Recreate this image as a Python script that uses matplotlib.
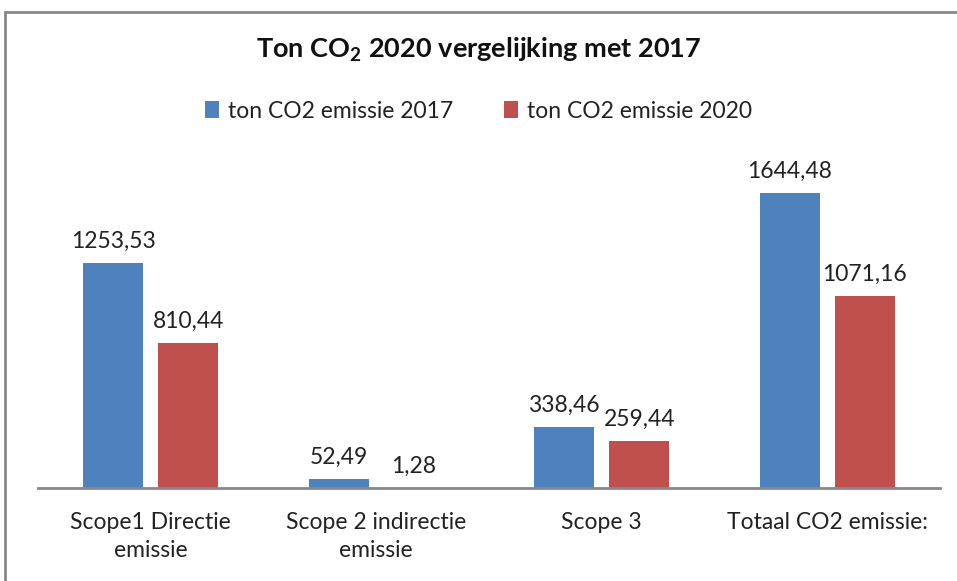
import matplotlib
matplotlib.use("Agg")
import matplotlib.pyplot as plt
from matplotlib.patches import Rectangle

categories = ["Scope1 Directie\nemissie", "Scope 2 indirectie\nemissie", "Scope 3", "Totaal CO2 emissie:"]
values_2017 = [1253.53, 52.49, 338.46, 1644.48]
values_2020 = [810.44, 1.28, 259.44, 1071.16]
series_names = ["ton CO2 emissie 2017", "ton CO2 emissie 2020"]

plt.rcParams['font.family'] = ['Lato', 'DejaVu Sans']
plt.rcParams['mathtext.fontset'] = 'custom'
plt.rcParams['mathtext.rm'] = 'Lato'
plt.rcParams['mathtext.bf'] = 'Lato:bold'

fig = plt.figure(figsize=(9.57, 5.81), dpi=100)
ax = fig.add_axes([38/957, (581-488)/581, (940-38)/957, (488-165)/581])

x = list(range(len(categories)))
w = 0.266
off = 0.166
blue = "#4F81BD"
red = "#C0504D"
b1 = ax.bar([i - off for i in x], values_2017, w, color=blue, label=series_names[0])
b2 = ax.bar([i + off for i in x], values_2020, w, color=red, label=series_names[1])

def fmt(v):
    return f"{v:.2f}".replace(".", ",")

for bars, vals in ((b1, values_2017), (b2, values_2020)):
    for rect, v in zip(bars, vals):
        ax.annotate(fmt(v), (rect.get_x() + rect.get_width()/2, rect.get_height()),
                    xytext=(0, 8), textcoords="offset points", ha="center", va="bottom",
                    fontsize=16.5, color="#222222")

ax.set_xlim(-0.5, 3.5)
ax.set_ylim(0, 1800)
ax.set_xticks(x)
ax.set_xticklabels(categories, fontsize=16.5, color="#222222", linespacing=1.45)
ax.tick_params(axis='x', length=0, pad=17)
ax.set_yticks([])
for s in ("top", "left", "right"):
    ax.spines[s].set_visible(False)
ax.spines["bottom"].set_color("#888888")
ax.spines["bottom"].set_linewidth(2)

fig.text(0.5, (581-50)/581, r"Ton CO$\mathbf{_2}$ 2020 vergelijking met 2017", ha="center", va="center",
         fontsize=19.5, fontweight="bold", color="#111111")

leg = fig.legend(handles=[b1, b2], labels=series_names, loc="center", bbox_to_anchor=(0.5, (581-111)/581),
                 ncol=2, frameon=False, fontsize=16.5, handlelength=0.6, handleheight=0.8,
                 columnspacing=2.2, handletextpad=0.4)
for t in leg.get_texts():
    t.set_color("#222222")

fig.add_artist(Rectangle((5/957, -0.1), 1.2, (581-12)/581 + 0.1, transform=fig.transFigure,
                         fill=False, edgecolor="#888888", linewidth=2))

fig.savefig("out.png", dpi=100)
